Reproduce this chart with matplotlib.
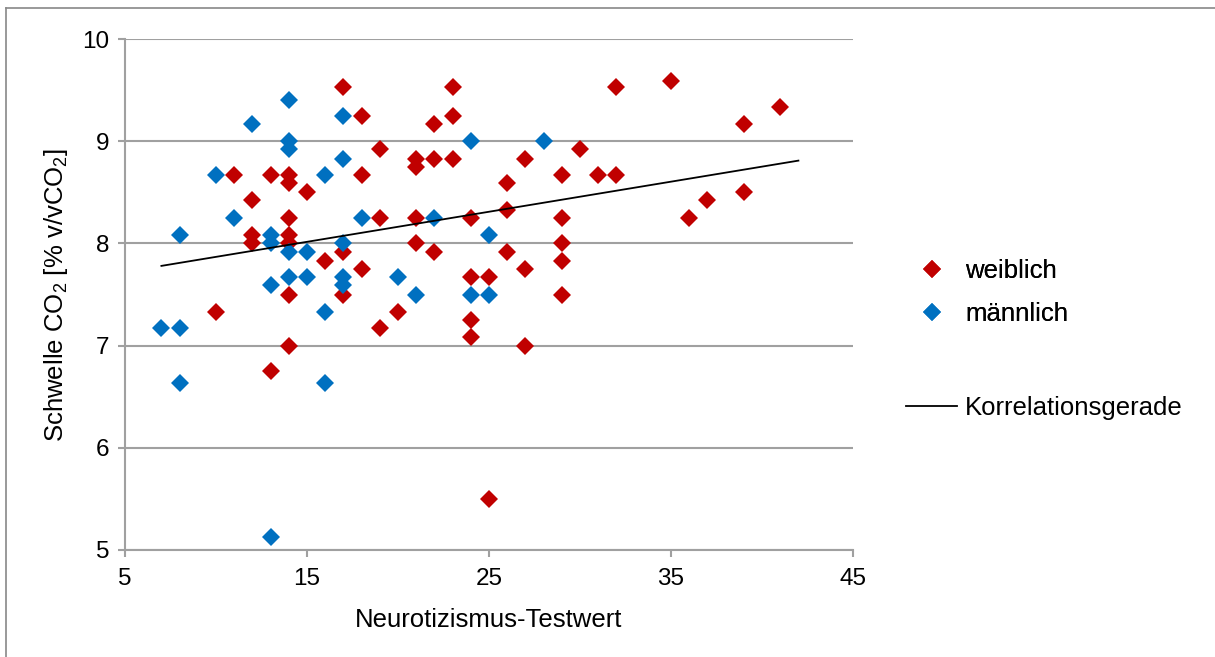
import matplotlib
matplotlib.use("Agg")
import matplotlib.pyplot as plt
from matplotlib.lines import Line2D

plt.rcParams['font.family'] = ['Liberation Sans', 'DejaVu Sans']
plt.rcParams['mathtext.default'] = 'regular'

# weiblich
w_x = [17, 23, 32, 35, 18, 23, 22, 39, 41,
       19, 21, 21, 22, 23, 27, 30,
       11, 13, 14, 14, 18, 29, 31, 32, 26,
       15, 12, 37, 39, 36,
       14, 19, 21, 24, 29, 26,
       12, 12, 14, 14, 21, 29,
       17, 22, 26, 16, 29,
       18, 27, 24, 25,
       14, 17, 29,
       10, 20, 24, 19, 24,
       14, 27, 13, 25]
w_y = [9.53, 9.53, 9.53, 9.59, 9.25, 9.25, 9.17, 9.17, 9.33,
       8.92, 8.83, 8.75, 8.83, 8.83, 8.83, 8.92,
       8.67, 8.67, 8.67, 8.59, 8.67, 8.67, 8.67, 8.67, 8.59,
       8.5, 8.42, 8.42, 8.5, 8.25,
       8.25, 8.25, 8.25, 8.25, 8.25, 8.33,
       8.08, 8.0, 8.08, 8.0, 8.0, 8.0,
       7.92, 7.92, 7.92, 7.83, 7.83,
       7.75, 7.75, 7.67, 7.67,
       7.5, 7.5, 7.5,
       7.33, 7.33, 7.25, 7.17, 7.08,
       7.0, 7.0, 6.75, 5.5]

# männlich
m_x = [14, 17, 12, 14, 14, 17, 24, 28,
       10, 16, 11, 18, 22,
       8, 13, 13, 17, 25,
       14, 15,
       14, 15, 17, 20,
       13, 17,
       21, 24, 25,
       16, 7, 8,
       8, 16, 13]
m_y = [9.4, 9.25, 9.17, 9.0, 8.92, 8.83, 9.0, 9.0,
       8.67, 8.67, 8.25, 8.25, 8.25,
       8.08, 8.08, 8.0, 8.0, 8.08,
       7.92, 7.92,
       7.67, 7.67, 7.67, 7.67,
       7.59, 7.59,
       7.5, 7.5, 7.5,
       7.33, 7.17, 7.17,
       6.63, 6.63, 5.13]

# Korrelationsgerade (Endpunkte)
line_x = [7, 42]
line_y = [7.78, 8.81]

x_ticks = [5, 15, 25, 35, 45]
y_ticks = [5, 6, 7, 8, 9, 10]

red = '#C00000'
blue = '#0070C0'
grid_col = '#A0A0A0'
fs = 18.5
fs_tick = 17.5
ms = 9.6

fig = plt.figure(figsize=(12.15, 6.57), dpi=100)
ax = fig.add_axes([125/1215, 1 - 550/657, (853-125)/1215, (550-39)/657])

ax.plot(w_x, w_y, linestyle='none', marker='D', ms=ms, color=red,
        markeredgewidth=0, label='weiblich', zorder=3)
ax.plot(m_x, m_y, linestyle='none', marker='D', ms=ms, color=blue,
        markeredgewidth=0, label='männlich', zorder=4)
ax.plot(line_x, line_y, color='black', lw=1.3, zorder=5)

ax.set_xlim(5, 45)
ax.set_ylim(5, 10)
ax.set_xticks(x_ticks)
ax.set_yticks(y_ticks)
ax.grid(axis='y', color=grid_col, lw=1.5)
ax.set_axisbelow(True)
for s in ['top', 'right']:
    ax.spines[s].set_visible(False)
for s in ['left', 'bottom']:
    ax.spines[s].set_color(grid_col)
    ax.spines[s].set_linewidth(1.5)
ax.tick_params(axis='both', direction='out', length=5, width=1.5,
               color=grid_col, labelsize=fs_tick)
ax.tick_params(axis='y', pad=6)
ax.tick_params(axis='x', pad=8)

ax.set_xlabel('Neurotizismus-Testwert', fontsize=fs, labelpad=13)
ax.set_ylabel('Schwelle CO$_2$ [% v/vCO$_2$]', fontsize=fs, labelpad=9)

h1 = [Line2D([], [], linestyle='none', marker='D', ms=ms, color=red, markeredgewidth=0),
      Line2D([], [], linestyle='none', marker='D', ms=ms, color=blue, markeredgewidth=0)]
leg1 = fig.legend(h1, ['weiblich', 'männlich'], loc='center left',
                  bbox_to_anchor=(906/1215, 1 - 292.5/657), frameon=False,
                  fontsize=fs, handlelength=2.0, handletextpad=0.3,
                  labelspacing=0.75, borderpad=0, borderaxespad=0)
h2 = [Line2D([], [], color='black', lw=1.3)]
leg2 = fig.legend(h2, ['Korrelationsgerade'], loc='center left',
                  bbox_to_anchor=(906/1215, 1 - 408/657), frameon=False,
                  fontsize=fs, handlelength=2.0, handletextpad=0.3,
                  borderpad=0, borderaxespad=0)
fig.add_artist(leg1)

# Rahmen links und oben
fig.add_artist(Line2D([6/1215, 6/1215], [0, 1 - 8/657], color='#888888', lw=1.2))
fig.add_artist(Line2D([6/1215, 1], [1 - 8/657, 1 - 8/657], color='#888888', lw=1.2))

fig.savefig('out.png', dpi=100)
